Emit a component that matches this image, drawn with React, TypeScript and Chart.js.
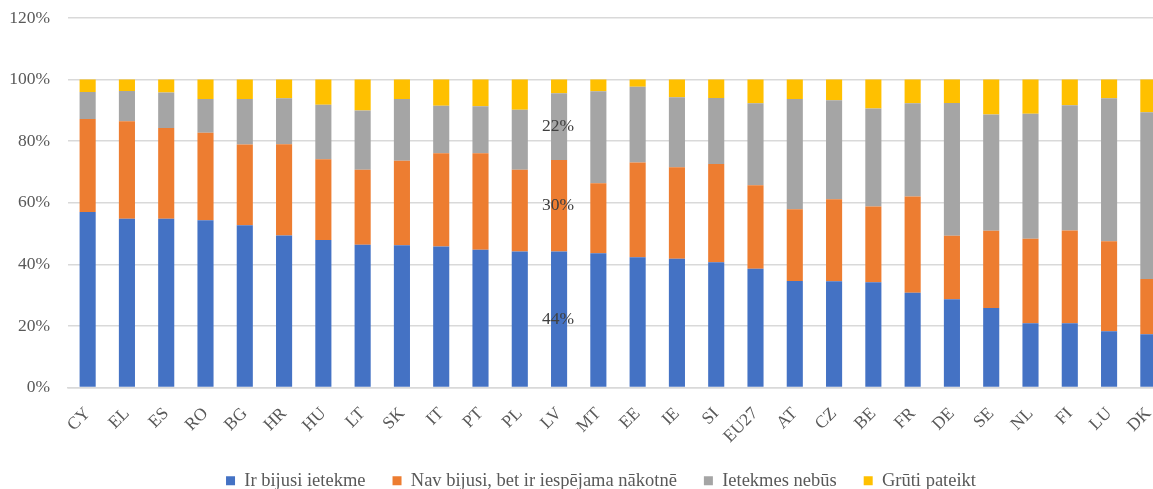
import React, { useEffect, useRef } from "react";
import { Chart, registerables } from "chart.js";

Chart.register(...registerables);

const categories = ["CY", "EL", "ES", "RO", "BG", "HR", "HU", "LT", "SK", "IT", "PT", "PL", "LV", "MT", "EE", "IE", "SI", "EU27", "AT", "CZ", "BE", "FR", "DE", "SE", "NL", "FI", "LU", "DK"];

const irBijusiIetekme = [57.0, 54.8, 54.8, 54.3, 52.7, 49.4, 47.9, 46.4, 46.2, 45.8, 44.7, 44.2, 44.2, 43.6, 42.3, 41.8, 40.7, 38.6, 34.6, 34.5, 34.2, 30.8, 28.7, 25.8, 20.9, 20.9, 18.3, 17.3];
const navBijusiIespejama = [30.2, 31.7, 29.5, 28.4, 26.2, 29.6, 26.2, 24.3, 27.4, 30.3, 31.4, 26.5, 29.7, 22.7, 30.8, 29.7, 31.9, 27.1, 23.3, 26.6, 24.6, 31.2, 20.6, 25.1, 27.4, 30.1, 29.2, 17.9];
const ietekmesNebus = [8.8, 9.8, 11.5, 11.0, 14.8, 14.9, 17.7, 19.3, 20.1, 15.4, 15.2, 19.5, 21.7, 29.9, 24.6, 22.8, 21.4, 26.6, 35.8, 32.2, 31.8, 30.3, 43.1, 37.8, 40.6, 40.7, 46.4, 54.2];
const grutiPateikt = [4.0, 3.7, 4.2, 6.3, 6.3, 6.1, 8.2, 10.0, 6.3, 8.5, 8.7, 9.8, 4.4, 3.8, 2.3, 5.7, 6.0, 7.7, 6.3, 6.7, 9.4, 7.7, 7.6, 11.3, 11.1, 8.3, 6.1, 10.6];

const seriesNames = ["Ir bijusi ietekme", "Nav bijusi, bet ir iespējama nākotnē", "Ietekmes nebūs", "Grūti pateikt"];
const seriesColors = ["#4472C4", "#ED7D31", "#A5A5A5", "#FFC000"];

const yTicks = [0, 20, 40, 60, 80, 100, 120];
const labelledCategory = "LV";
const labelledSeries = [0, 1, 2];

const FONT = '"Liberation Serif", "Times New Roman", serif';

const valueLabelPlugin = {
  id: "valueLabels",
  afterDatasetsDraw(chart: any) {
    const idx = categories.indexOf(labelledCategory);
    const ctx = chart.ctx;
    ctx.save();
    ctx.font = `17.5px ${FONT}`;
    ctx.fillStyle = "#404040";
    ctx.textAlign = "center";
    ctx.textBaseline = "middle";
    labelledSeries.forEach((si) => {
      const el = chart.getDatasetMeta(si).data[idx];
      const v = chart.data.datasets[si].data[idx] as number;
      ctx.fillText(Math.round(v) + "%", el.x - 1, (el.y + el.base) / 2);
    });
    ctx.restore();
  },
};

export default function App() {
  const ref = useRef<HTMLCanvasElement | null>(null);

  useEffect(() => {
    if (!ref.current) return;
    const data = [irBijusiIetekme, navBijusiIespejama, ietekmesNebus, grutiPateikt];
    const chart = new Chart(ref.current, {
      type: "bar",
      data: {
        labels: categories,
        datasets: data.map((d, i) => ({
          label: seriesNames[i],
          data: d,
          backgroundColor: seriesColors[i],
          borderWidth: 0,
          categoryPercentage: 1,
          barPercentage: 0.41,
          yAxisID: "y",
        })),
      },
      options: {
        responsive: false,
        animation: false,
        devicePixelRatio: 1,
        layout: { padding: { left: 0, right: 0, top: 18, bottom: 0 } },
        plugins: {
          tooltip: { enabled: false },
          legend: {
            position: "bottom",
            labels: {
              font: { family: FONT, size: 18.5 },
              color: "#595959",
              boxWidth: 9,
              boxHeight: 9,
              padding: 27,
            },
          },
        },
        scales: {
          x: {
            stacked: true,
            grid: { display: false },
            border: { display: true, color: "#D9D9D9", width: 1.5 },
            ticks: {
              font: { family: FONT, size: 17.5 },
              color: "#595959",
              minRotation: 45,
              maxRotation: 45,
              padding: 8,
              autoSkip: false,
            },
            afterFit: (scale: any) => {
              scale.height = 57;
            },
          },
          y: {
            stacked: true,
            position: "left",
            min: 0,
            max: 120,
            afterBuildTicks: (scale: any) => {
              scale.ticks = yTicks.map((v) => ({ value: v }));
            },
            grid: {
              color: "#D9D9D9",
              lineWidth: 1.5,
              drawTicks: true,
              tickLength: 18,
              tickColor: "rgba(0,0,0,0)",
            },
            border: { display: false },
            ticks: {
              font: { family: FONT, size: 17.5 },
              color: "#595959",
              padding: 0,
              callback: (v: any) => v + "%",
            },
            afterFit: (scale: any) => {
              scale.width = 68;
            },
          },
          yRight: {
            position: "right",
            display: true,
            min: 0,
            max: 120,
            grid: { display: false, drawTicks: false },
            border: { display: false },
            ticks: { display: false, padding: 0 },
            afterFit: (scale: any) => {
              scale.width = 34;
            },
          },
        },
      },
      plugins: [valueLabelPlugin],
    });
    return () => chart.destroy();
  }, []);

  return (
    <div style={{ position: "fixed", left: 0, top: 0, width: 1153, height: 489, overflow: "hidden", background: "#fff" }}>
      <canvas ref={ref} width={1202} height={500} style={{ display: "block" }} />
    </div>
  );
}
